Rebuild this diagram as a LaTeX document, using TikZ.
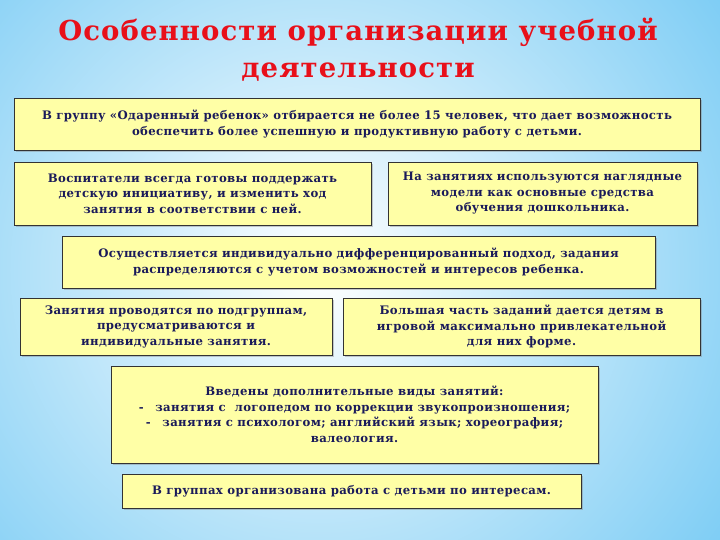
\documentclass[tikz,border=0pt]{standalone}
\usepackage{fontspec}
\setmainfont{DejaVu Serif}
\usetikzlibrary{shadows}
\definecolor{bgblue}{HTML}{5CC0F2}
\definecolor{boxfill}{HTML}{FFFFA6}
\definecolor{txt}{HTML}{1A1A5A}
\definecolor{ttl}{HTML}{E8101A}
\tikzset{
  info/.style={draw=black!80, line width=0.8pt, fill=boxfill, drop shadow={shadow xshift=2pt,shadow yshift=-2pt,opacity=0.4},
    text=txt, font=\bfseries\addfontfeature{LetterSpace=3}\fontsize{11.7}{15.5}\selectfont, align=center, inner sep=2pt},
}
\begin{document}
\begin{tikzpicture}[x=1pt,y=-1pt]
\useasboundingbox (0,0) rectangle (720,540);
\shade[inner color=white, outer color=bgblue] (-300,-330) rectangle (940,870);
\node[text=ttl, font=\bfseries\addfontfeature{LetterSpace=4}\fontsize{27.5}{37}\selectfont, align=center] (title) at (358,50) {Особенности организации учебной\\деятельности};
\node[info, minimum width=686, minimum height=52] (b1) at (357,124) {В группу «Одаренный ребенок» отбирается не более 15 человек, что дает возможность\\обеспечить более успешную и продуктивную работу с детьми.};
\node[info, minimum width=357, minimum height=63] (b2) at (192.5,193.5) {Воспитатели всегда готовы поддержать\\детскую инициативу, и изменить ход\\занятия в соответствии с ней.};
\node[info, minimum width=309, minimum height=63] (b3) at (542.5,193.5) {На занятиях используются наглядные\\модели как основные средства\\обучения дошкольника.};
\node[info, minimum width=593, minimum height=52] (b4) at (358.5,262) {Осуществляется индивидуально дифференцированный подход, задания\\распределяются с учетом возможностей и интересов ребенка.};
\node[info, minimum width=312, minimum height=57] (b5) at (176,326.5) {Занятия проводятся по подгруппам,\\предусматриваются и\\индивидуальные занятия.};
\node[info, minimum width=357, minimum height=57] (b6) at (521.5,326.5) {Большая часть заданий дается детям в\\игровой максимально привлекательной\\для них форме.};
\node[info, minimum width=487, minimum height=97] (b7) at (354.5,414.5) {Введены дополнительные виды занятий:\\-\quad занятия с \ логопедом по коррекции звукопроизношения;\\-\quad занятия с психологом; английский язык; хореография;\\валеология.};
\node[info, minimum width=459, minimum height=34] (b8) at (351.5,491) {В группах организована работа с детьми по интересам.};
\end{tikzpicture}
\end{document}
